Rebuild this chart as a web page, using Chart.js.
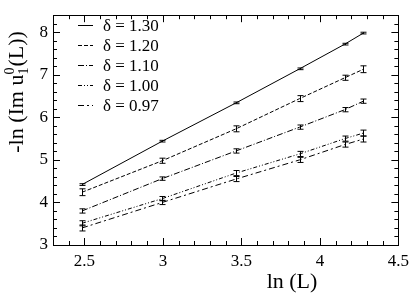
<!DOCTYPE html>
<html>
<head>
<meta charset="utf-8">
<script src="https://cdn.jsdelivr.net/npm/chart.js@4"></script>
<style>
  html, body { margin: 0; padding: 0; background: #fff; }
  #wrap { width: 415px; height: 293px; }
</style>
</head>
<body>
<div id="wrap"><canvas id="grafico"></canvas></div>
<script>
// ln(L) for L = 12, 20, 32, 48, 64, 72
const lnL = [2.485, 2.996, 3.466, 3.871, 4.159, 4.277];

const deltas = ['1.30', '1.20', '1.10', '1.00', '0.97'];
const v130 = [4.42, 5.44, 6.34, 7.14, 7.72, 7.98];
const v120 = [4.24, 4.98, 5.73, 6.44, 6.93, 7.13];
const v110 = [3.80, 4.56, 5.21, 5.77, 6.18, 6.38];
const v100 = [3.51, 4.09, 4.69, 5.14, 5.50, 5.63];
const v097 = [3.40, 4.00, 4.55, 5.00, 5.36, 5.49];

const e130 = [0.02, 0.02, 0.02, 0.02, 0.02, 0.02];
const e120 = [0.08, 0.06, 0.07, 0.07, 0.06, 0.08];
const e110 = [0.05, 0.04, 0.05, 0.05, 0.05, 0.05];
const e100 = [0.06, 0.05, 0.06, 0.06, 0.06, 0.07];
const e097 = [0.07, 0.05, 0.06, 0.06, 0.06, 0.07];

const xTicks = [2.5, 3, 3.5, 4, 4.5];
const yTicks = [3, 4, 5, 6, 7, 8];

const series = [v130, v120, v110, v100, v097];
const errors = [e130, e120, e110, e100, e097];
const dashes = [[], [4, 2], [6, 2, 1, 2], [4, 2, 1, 2, 1, 2], [6, 3, 2, 3]];

const serif = '"Liberation Serif", "Times New Roman", serif';

// eixos com ticks para dentro, caixa, títulos, barras de erro e legenda
const extras = {
  id: 'extras',
  afterDatasetsDraw(chart) {
    const ctx = chart.ctx;
    const x = chart.scales.x, y = chart.scales.y;
    ctx.save();
    ctx.strokeStyle = '#000';
    ctx.lineWidth = 1;
    ctx.setLineDash([]);
    chart.data.datasets.forEach((ds, i) => {
      const err = errors[i];
      ds.data.forEach((p, j) => {
        const px = Math.round(x.getPixelForValue(p.x)) + 0.5;
        const y1 = y.getPixelForValue(p.y - err[j]);
        const y2 = y.getPixelForValue(p.y + err[j]);
        ctx.beginPath();
        ctx.moveTo(px, y1); ctx.lineTo(px, y2);
        ctx.moveTo(px - 3, y1); ctx.lineTo(px + 3, y1);
        ctx.moveTo(px - 3, y2); ctx.lineTo(px + 3, y2);
        ctx.stroke();
      });
    });

    // legenda
    ctx.font = '17px ' + serif;
    ctx.fillStyle = '#000';
    ctx.textBaseline = 'middle';
    deltas.forEach((d, i) => {
      const ly = 25.5 + i * 20;
      ctx.setLineDash(dashes[i]);
      ctx.beginPath();
      ctx.moveTo(78, ly); ctx.lineTo(93, ly);
      ctx.stroke();
      ctx.setLineDash([]);
      ctx.fillText('\u03b4 = ' + d, 103, ly + 1);
    });
    ctx.restore();
  },
  afterDraw(chart) {
    const ctx = chart.ctx;
    const a = chart.chartArea;
    const x = chart.scales.x, y = chart.scales.y;
    ctx.save();
    ctx.strokeStyle = '#000';
    ctx.lineWidth = 1;
    ctx.strokeRect(Math.round(a.left) + 0.5, Math.round(a.top) + 0.5,
      Math.round(a.right - a.left), Math.round(a.bottom - a.top));
    ctx.beginPath();
    for (let k = 0; k <= 22; k++) {
      const v = 2.3 + k * 0.1;
      const major = k % 5 === 2;
      const len = major ? 7 : 4;
      const px = Math.round(x.getPixelForValue(v)) + 0.5;
      ctx.moveTo(px, a.bottom); ctx.lineTo(px, a.bottom - len);
      ctx.moveTo(px, a.top); ctx.lineTo(px, a.top + len);
    }
    for (let k = 0; k <= 27; k++) {
      const v = 3 + k * 0.2;
      const major = k % 5 === 0;
      const len = major ? 7 : 4;
      const py = Math.round(y.getPixelForValue(v)) + 0.5;
      ctx.moveTo(a.left, py); ctx.lineTo(a.left + len, py);
      ctx.moveTo(a.right, py); ctx.lineTo(a.right - len, py);
    }
    ctx.stroke();

    // títulos dos eixos
    ctx.fillStyle = '#000';
    ctx.textBaseline = 'alphabetic';
    ctx.textAlign = 'center';
    ctx.font = '22px ' + serif;
    ctx.fillText('ln (L)', 292, 288);

    ctx.translate(23, 92);
    ctx.rotate(-Math.PI / 2);
    ctx.textAlign = 'left';
    const p1 = '-ln (Im u';
    const p2 = '(L))';
    const w1 = ctx.measureText(p1).width;
    ctx.font = '14px ' + serif;
    const ws = ctx.measureText('0').width;
    ctx.font = '22px ' + serif;
    const w2 = ctx.measureText(p2).width;
    const start = -(w1 + ws + 1 + w2) / 2;
    ctx.fillText(p1, start, 0);
    ctx.font = '14px ' + serif;
    ctx.fillText('0', start + w1, -9);
    ctx.fillText('1', start + w1, 5);
    ctx.font = '22px ' + serif;
    ctx.fillText(p2, start + w1 + ws + 1, 0);
    ctx.restore();
  }
};

const datasets = series.map((vals, i) => ({
  label: '\u03b4 = ' + deltas[i],
  data: lnL.map((lx, j) => ({ x: lx, y: vals[j] })),
  borderColor: '#000',
  borderWidth: 1,
  borderDash: dashes[i],
  pointRadius: 0,
  fill: false,
  tension: 0
}));

function desenhar() {
  new Chart(document.getElementById('grafico'), {
    type: 'line',
    data: { datasets },
    plugins: [extras],
    options: {
      responsive: true,
      maintainAspectRatio: false,
      animation: false,
      layout: { padding: { top: 1, right: 13, left: 0, bottom: 0 } },
      plugins: { legend: { display: false }, tooltip: { enabled: false } },
      scales: {
        x: {
          type: 'linear',
          min: 2.3, max: 4.5,
          afterBuildTicks: s => { s.ticks = xTicks.map(v => ({ value: v })); },
          afterFit: s => { s.height = 48; },
          grid: { display: false, drawTicks: false },
          border: { display: false },
          ticks: {
            padding: 6,
            color: '#000',
            font: { family: serif, size: 17 },
            callback: v => String(v)
          }
        },
        y: {
          type: 'linear',
          min: 3, max: 8.4,
          afterBuildTicks: s => { s.ticks = yTicks.map(v => ({ value: v })); },
          afterFit: s => { s.width = 53; },
          grid: { display: false, drawTicks: false },
          border: { display: false },
          ticks: {
            padding: 5,
            color: '#000',
            font: { family: serif, size: 17 },
            callback: v => String(v)
          }
        }
      }
    }
  });
}

Promise.all([
  document.fonts.load('17px "Liberation Serif"'),
  document.fonts.load('22px "Liberation Serif"')
]).then(desenhar, desenhar);
</script>
</body>
</html>
